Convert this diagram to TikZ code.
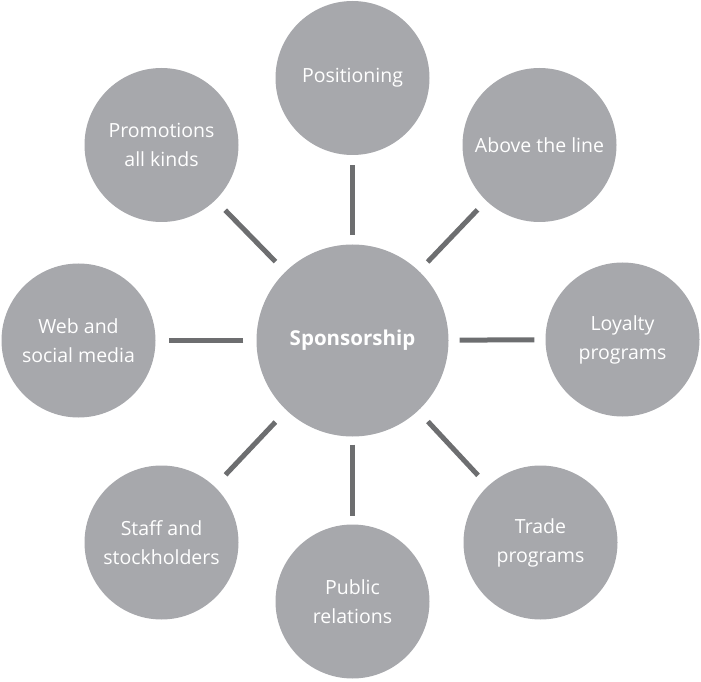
\documentclass[tikz,border=0pt]{standalone}
\usepackage{fontspec}
\setmainfont{Open Sans}
\usepackage{tikz}
\usetikzlibrary{positioning}
\definecolor{discgray}{HTML}{A7A8AC}
\definecolor{linkgray}{HTML}{6D6E70}
\tikzset{
    hub/.style={
    circle,fill=discgray,minimum size=192pt,inner sep=0pt,text=white,
    font=\fontsize{20.5}{24}\selectfont\bfseries
    },
    topic/.style={
    circle,fill=discgray,minimum size=154pt,inner sep=0pt,text=white,align=center,
    font=\fontsize{19.5}{29}\selectfont
    },
    link/.style={
    draw=linkgray,line width=5pt,shorten >=#1,shorten <=#1
    },
}
\begin{document}
\begin{tikzpicture}[x=1pt, y=1pt]
   \useasboundingbox (0,0) rectangle (701,681);
   \node[hub] (spons) at (352.5,340.5) {Sponsorship};
   \node[topic] (posit) at (352.5,603) {Positioning};
   \node[topic] (above) at (539.5,536) {Above the line};
   \node[topic] (loyal) at (622.5,341.5) {Loyalty\\programs};
   \node[topic] (trade) at (540.5,138.5) {Trade\\programs};
   \node[topic] (public) at (352.5,79.5) {Public\\relations};
   \node[topic] (staff) at (161.5,138.5) {Staff and\\stockholders};
   \node[topic] (web) at (78.5,340.5) {Web and\\social media};
   \node[topic] (promo) at (161.5,536) {Promotions\\all kinds};

  \path
    (spons) edge[link=9.5pt] (posit)
            edge[link=12.5pt] (above)
            edge[link=11pt] (loyal)
            edge[link=14.5pt] (trade)
            edge[link=8pt] (public)
            edge[link=16pt] (staff)
            edge[link=13pt] (web)
            edge[link=14pt] (promo);
  \end{tikzpicture}
\end{document}
